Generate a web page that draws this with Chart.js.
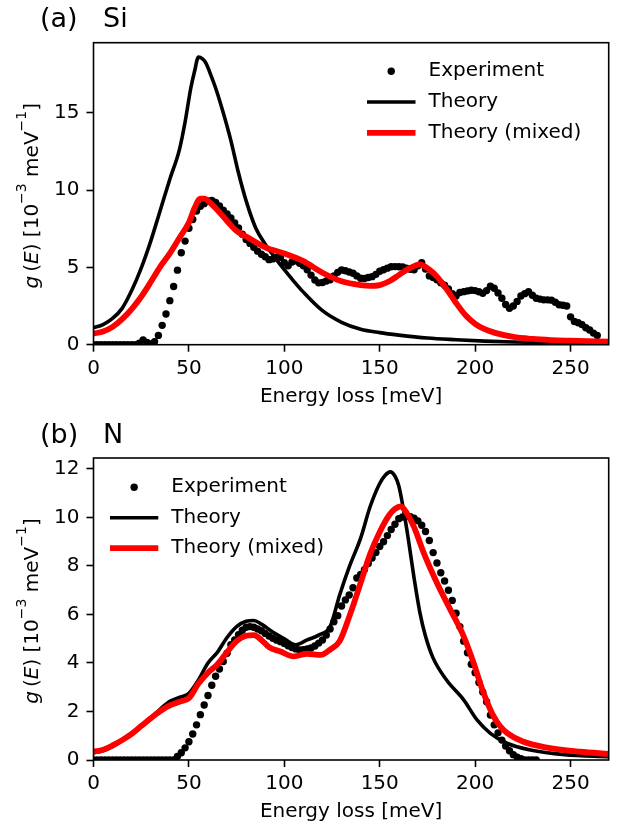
<!DOCTYPE html>
<html>
<head>
<meta charset="utf-8">
<script src="https://cdn.jsdelivr.net/npm/chart.js@4.4.0/dist/chart.umd.min.js"></script>
<style>
  html, body { margin: 0; padding: 0; background: #fff; }
  body { width: 620px; height: 829px; position: relative; overflow: hidden; }
  canvas { position: absolute; left: 0; }
</style>
</head>
<body>
<canvas id="si_chart" width="620" height="415" style="top:0px"></canvas>
<canvas id="n_chart" width="620" height="414" style="top:415px"></canvas>
<script>
// (a) Si -- experiment, every 2 meV
var si_exp_E = [0,2,4,6,8,10,12,14,16,18,20,22,24,26,28,30,32,34,36,38,40,42,44,46,48,50,52,54,56,58,60,62,64,66,68,70,72,74,76,78,80,82,84,86,88,90,92,94,96,98,100,102,104,106,108,110,112,114,116,118,120,122,124,126,128,130,132,134,136,138,140,142,144,146,148,150,152,154,156,158,160,162,164,166,168,170,172,174,176,178,180,182,184,186,188,190,192,194,196,198,200,202,204,206,208,210,212,214,216,218,220,222,224,226,228,230,232,234,236,238,240,242,244,246,248,250,252,254,256,258,260,262,264];
var si_exp_g = [0,0,0,0,0,0,0,0,0,0,0,0,
  0.1,0.3,0.15,0.05,0.2,0.6,1.25,1.99,2.85,3.76,4.82,5.95,6.7,7.53,8.1,8.65,8.95,9.12,
  9.3,9.33,9.2,8.97,8.7,8.45,8.2,7.88,7.55,7.15,6.8,6.55,6.3,6.05,5.85,5.69,5.5,5.55,5.65,5.66,
  5.3,5.1,5.35,5.42,5.27,5.1,4.85,4.5,4.18,4.0,4.02,4.12,4.2,4.45,4.68,4.83,4.78,4.7,4.62,4.45,
  4.3,4.28,4.35,4.4,4.55,4.75,4.85,4.95,5.04,5.05,5.04,5.03,4.95,4.88,4.85,5.1,5.3,4.9,4.45,4.35,
  4.2,4.0,3.85,3.6,3.3,3.15,3.38,3.43,3.48,3.52,3.5,3.42,3.32,3.5,3.78,3.65,3.35,3.0,2.6,2.35,
  2.5,2.8,3.15,3.3,3.42,3.2,3.0,2.95,2.9,2.9,2.88,2.75,2.58,2.55,2.5,1.8,1.5,1.42,1.3,1.1,
  0.95,0.75,0.6];
var si_theory_E = [0,5,10,15,20,25,30,35,40,45,48,51,53,55,57,59,61,64,68,72,76,80,85,90,95,100,105,110,120,130,140,150,160,175,190,205,220,240,270];
var si_theory_g = [1.1,1.3,1.7,2.35,3.5,4.95,6.7,8.7,10.7,12.6,14.4,16.6,17.7,18.6,18.5,18.2,17.6,16.6,15.0,13.2,11.1,9.3,7.55,6.5,5.65,4.85,4.1,3.4,2.2,1.45,1.0,0.78,0.62,0.43,0.32,0.23,0.17,0.13,0.08];
var si_mixed_E = [0,5,10,15,20,25,30,35,40,45,50,53,56,58,61,65,70,75,80,90,100,110,120,130,140,145,150,155,160,165,171,176,180,185,190,195,200,205,210,220,230,240,250,270];
var si_mixed_g = [0.72,0.85,1.15,1.65,2.3,3.1,4.05,5.05,5.9,6.9,7.9,8.85,9.45,9.45,9.2,8.7,8.0,7.35,7.0,6.3,5.9,5.4,4.65,4.1,3.85,3.8,3.85,4.1,4.5,4.9,5.2,4.85,4.4,3.6,2.7,1.9,1.35,1.0,0.78,0.5,0.37,0.3,0.26,0.19];

// (b) N
var n_exp_E = [0,2,4,6,8,10,12,14,16,18,20,22,24,26,28,30,32,34,36,38,40,42,44,46,48,50,52,54,56,58,60,62,64,66,68,70,72,74,76,78,80,82,84,86,88,90,92,94,96,98,100,102,104,106,108,110,112,114,116,118,120,122,124,126,128,130,132,134,136,138,140,142,144,146,148,150,152,154,156,158,160,162,164,166,168,170,172,174,176,178,180,182,184,186,188,190,192,194,196,198,200,202,204,206,208,210,212,214,216,218,220,222,224,226,228,230,232];
var n_exp_g = [0,0,0,0,0,0,0,0,0,0,0,0,0,0,0,0,0,0,0,0,0,0,
  0.15,0.3,0.5,0.75,1.07,1.45,1.87,2.27,2.66,3.08,3.45,3.75,4.06,4.4,4.75,4.95,5.17,5.35,
  5.47,5.5,5.47,5.4,5.33,5.22,5.11,5.02,4.94,4.88,4.8,4.71,4.64,4.58,4.54,4.55,4.58,4.62,4.7,4.82,
  4.95,5.15,5.4,5.7,5.95,6.35,6.6,6.8,7.1,7.5,7.65,7.85,8.1,8.33,8.55,8.8,9.0,9.25,9.5,9.72,
  9.95,10.02,10.05,10.03,9.97,9.86,9.68,9.42,9.05,8.55,8.12,7.72,7.38,7.0,6.58,6.05,5.5,4.9,4.42,3.95,
  3.6,3.2,2.8,2.4,1.85,1.45,1.12,0.82,0.58,0.38,0.22,0.12,0.05,0,0,0,0];
var n_theory_E = [0,5,10,15,20,25,30,35,40,45,50,55,60,65,70,75,80,84,88,95,100,106,112,118,124,129,134,140,145,150,153,155.5,158,160,162.5,165,168,171,174,178,185,194,201,208,217,229,247,270];
var n_theory_g = [0.3,0.38,0.55,0.8,1.1,1.38,1.68,2.1,2.42,2.58,2.75,3.3,4.0,4.45,5.05,5.5,5.72,5.75,5.6,5.22,5.0,4.75,4.95,5.15,5.5,6.8,7.95,9.15,10.45,11.4,11.75,11.88,11.7,11.3,10.3,9.1,7.5,6.1,5.1,4.2,3.3,2.48,1.65,1.1,0.68,0.41,0.22,0.14];
var n_mixed_E = [0,5,10,15,20,25,30,35,40,45,50,55,60,65,70,75,80,84,88,92,98,105,112,119,124,129,134,140,145,150,155,158,161,164,168,173,180,187,194,199,204,209,213,217,225,237,255,270];
var n_mixed_g = [0.34,0.42,0.6,0.82,1.08,1.4,1.72,2.02,2.25,2.4,2.55,3.15,3.6,3.95,4.45,4.9,5.12,5.15,4.95,4.65,4.47,4.27,4.38,4.33,4.55,4.9,5.9,7.3,8.5,9.4,10.1,10.35,10.45,10.2,9.6,8.55,7.3,6.2,5.1,4.05,2.85,1.9,1.4,1.1,0.76,0.52,0.34,0.25];

var x_ticks_step = 50;
var series_labels = ["Experiment", "Theory", "Theory (mixed)"];
var FONT = "DejaVu Sans";

function pts(xs, ys) {
  return xs.map(function (x, i) { return { x: x, y: ys[i] }; });
}

// spines on all four sides, drawn over the lines like matplotlib
var framePlugin = {
  id: "frame",
  afterDatasetsDraw: function (chart) {
    var a = chart.chartArea, ctx = chart.ctx;
    ctx.save();
    ctx.strokeStyle = "#000";
    ctx.lineWidth = 1.6;
    ctx.strokeRect(a.left, a.top, a.right - a.left, a.bottom - a.top);
    ctx.restore();
  }
};

// legend without a box: dot / line handle, then label
var boxLegend = {
  id: "boxLegend",
  afterDraw: function (chart, args, o) {
    var ctx = chart.ctx;
    ctx.save();
    ctx.font = "20px '" + FONT + "'";
    ctx.textBaseline = "middle";
    ctx.fillStyle = "#000";
    chart.data.datasets.forEach(function (ds, i) {
      var y = o.y + i * o.gap;
      if (ds.showLine === false) {
        ctx.beginPath();
        ctx.arc(o.x + o.len / 2, y, ds.pointRadius, 0, Math.PI * 2);
        ctx.fillStyle = ds.pointBackgroundColor;
        ctx.fill();
      } else {
        ctx.beginPath();
        ctx.moveTo(o.x, y);
        ctx.lineTo(o.x + o.len, y);
        ctx.strokeStyle = ds.borderColor;
        ctx.lineWidth = ds.borderWidth;
        ctx.stroke();
      }
      ctx.fillStyle = "#000";
      ctx.fillText(ds.label, o.x + o.len + o.textGap, y);
    });
    ctx.restore();
  }
};

// panel tag and the rotated y label (italic g, E and superscripts)
var panelText = {
  id: "panelText",
  afterDraw: function (chart, args, o) {
    var ctx = chart.ctx, a = chart.chartArea;
    ctx.save();
    ctx.fillStyle = "#000";
    ctx.textBaseline = "alphabetic";
    ctx.font = "27px '" + FONT + "'";
    ctx.fillText(o.tag, 40, o.tagBase);
    ctx.fillText(o.name, 103, o.tagBase);

    var parts = [
      { t: "g", f: "italic 20px" },
      { t: "\u2009(", f: "20px" },
      { t: "E", f: "italic 20px" },
      { t: ") [10", f: "20px" },
      { t: "\u22123", f: "14px", up: 12 },
      { t: " meV", f: "20px" },
      { t: "\u22121", f: "14px", up: 12 },
      { t: "]", f: "20px" }
    ];
    var total = 0;
    parts.forEach(function (p) {
      ctx.font = p.f + " '" + FONT + "'";
      p.w = ctx.measureText(p.t).width;
      total += p.w;
    });
    ctx.translate(o.yLabelX, (a.top + a.bottom) / 2 + o.yLabelShift);
    ctx.rotate(-Math.PI / 2);
    var x = -total / 2;
    parts.forEach(function (p) {
      ctx.font = p.f + " '" + FONT + "'";
      ctx.fillText(p.t, x, -(p.up || 0));
      x += p.w;
    });
    ctx.restore();
  }
};

function makePanel(id, p) {
  var ctx = document.getElementById(id);
  var tickFont = { family: FONT, size: 20 };
  return new Chart(ctx, {
    type: "line",
    data: {
      datasets: [
        {
          label: series_labels[0],
          data: pts(p.expE, p.expG),
          showLine: false,
          pointRadius: 3.7,
          pointBackgroundColor: "#000",
          pointBorderWidth: 0,
          borderColor: "#000",
          order: 3,
          clip: 0
        },
        {
          label: series_labels[1],
          data: pts(p.thE, p.thG),
          borderColor: "#000",
          borderWidth: 3.6,
          pointRadius: 0,
          cubicInterpolationMode: "monotone",
          order: 2,
          clip: 0
        },
        {
          label: series_labels[2],
          data: pts(p.mixE, p.mixG),
          borderColor: "#ff0000",
          borderWidth: 5.8,
          pointRadius: 0,
          cubicInterpolationMode: "monotone",
          order: 1,
          clip: 0
        }
      ]
    },
    options: {
      responsive: false,
      animation: false,
      events: [],
      layout: { padding: { left: 0, right: 11.3, top: p.top, bottom: 0 } },
      plugins: {
        legend: { display: false },
        tooltip: { enabled: false },
        boxLegend: p.legend,
        panelText: p.text
      },
      scales: {
        x: {
          type: "linear",
          min: 0,
          max: 270,
          afterFit: function (s) { s.height = p.height - p.bottom; },
          ticks: {
            stepSize: x_ticks_step,
            includeBounds: false,
            maxRotation: 0,
            padding: 5,
            color: "#000",
            font: tickFont
          },
          grid: { display: true, drawOnChartArea: false, tickLength: 7, tickWidth: 1.6, tickColor: "#000" },
          border: { display: false },
          title: {
            display: true,
            text: "Energy loss [meV]",
            color: "#000",
            font: tickFont,
            padding: { top: 0, bottom: p.xTitlePad }
          }
        },
        y: {
          min: 0,
          max: p.ymax,
          afterFit: function (s) { s.width = 93.5; },
          ticks: {
            stepSize: p.ystep,
            includeBounds: false,
            autoSkip: false,
            padding: 7,
            color: "#000",
            font: tickFont
          },
          grid: { display: true, drawOnChartArea: false, tickLength: 7, tickWidth: 1.6, tickColor: "#000" },
          border: { display: false }
        }
      }
    },
    plugins: [framePlugin, boxLegend, panelText]
  });
}

makePanel("si_chart", {
  expE: si_exp_E, expG: si_exp_g,
  thE: si_theory_E, thG: si_theory_g,
  mixE: si_mixed_E, mixG: si_mixed_g,
  ymax: 19.53, ystep: 5,
  height: 415, top: 42.7, bottom: 344.7, xTitlePad: 6.2,
  legend: { x: 367, y: 71.2, gap: 30.8, len: 48.5, textGap: 13 },
  text: { tag: "(a)", name: "Si", tagBase: 27.3, yLabelX: 37.5, yLabelShift: 2 }
});

makePanel("n_chart", {
  expE: n_exp_E, expG: n_exp_g,
  thE: n_theory_E, thG: n_theory_g,
  mixE: n_mixed_E, mixG: n_mixed_g,
  ymax: 12.45, ystep: 2,
  height: 414, top: 43, bottom: 345, xTitlePad: 4.9,
  legend: { x: 110, y: 72.2, gap: 30.5, len: 48.3, textGap: 13 },
  text: { tag: "(b)", name: "N", tagBase: 27.5, yLabelX: 37.5, yLabelShift: 2 }
});
</script>
</body>
</html>
